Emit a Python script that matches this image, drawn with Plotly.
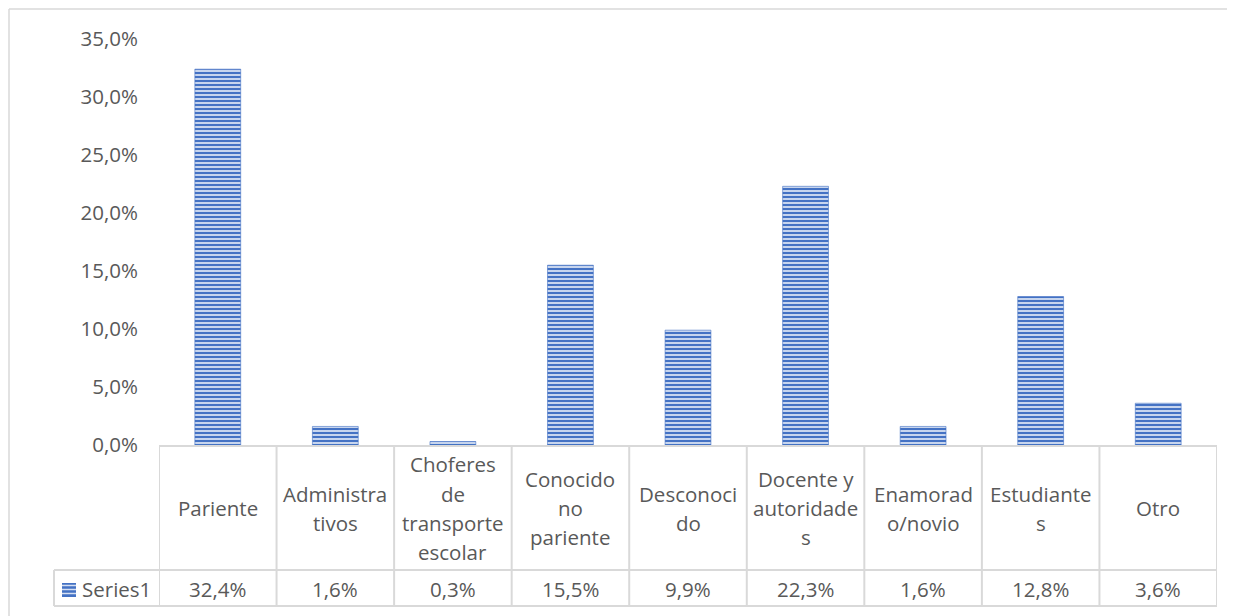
import plotly.graph_objects as go

categories = ["Pariente", "Administrativos", "Choferes de transporte escolar",
              "Conocido no pariente", "Desconocido", "Docente y autoridades",
              "Enamorado/novio", "Estudiantes", "Otro"]
label_lines = [["Pariente"], ["Administra", "tivos"], ["Choferes", "de", "transporte", "escolar"],
               ["Conocido", "no", "pariente"], ["Desconoci", "do"], ["Docente y", "autoridade", "s"],
               ["Enamorad", "o/novio"], ["Estudiante", "s"], ["Otro"]]
values = [0.324, 0.016, 0.003, 0.155, 0.099, 0.223, 0.016, 0.128, 0.036]
value_labels = ["32,4%", "1,6%", "0,3%", "15,5%", "9,9%", "22,3%", "1,6%", "12,8%", "3,6%"]
series_name = "Series1"

OFF = 8  # page body offset
W, H = 1227, 608
L, R, T, B = 159 - OFF, 18, 39 - OFF, 171
plot_h = H - T - B
plot_w = W - L - R
def py(pix):  # reference pixel y -> paper y
    return (H - B - (pix - OFF)) / plot_h
def px(pix):
    return ((pix - OFF) - L) / plot_w

TXT = "#595959"
GRID = "#d9d9d9"
FONT = "Open Sans"
FS = 20.5
BLUE = "#4472C4"
LIGHT = "#d6e0f3"

fig = go.Figure()
fig.add_trace(go.Bar(
    x=categories, y=values, width=0.39, name=series_name,
    marker=dict(color=LIGHT, line=dict(color=BLUE, width=0.6),
                pattern=dict(shape="-", fgcolor=BLUE, bgcolor=LIGHT,
                             size=4, solidity=0.55, fillmode="replace")),
    showlegend=False, hoverinfo="skip"))

shapes = []
line = dict(color=GRID, width=2)
n = len(categories)
# outer border: top and left only
shapes.append(dict(type="line", xref="paper", yref="paper", x0=px(9), x1=px(1240),
                   y0=py(9), y1=py(9), line=dict(color=GRID, width=1.5)))
shapes.append(dict(type="line", xref="paper", yref="paper", x0=px(9), x1=px(9),
                   y0=py(9), y1=py(620), line=dict(color=GRID, width=1.5)))
# header top (axis line)
shapes.append(dict(type="line", xref="paper", yref="paper", x0=0, x1=1, y0=py(446), y1=py(446), line=line))
# value row top
shapes.append(dict(type="line", xref="paper", yref="paper", x0=px(54), x1=1, y0=py(570), y1=py(570), line=line))
# bottom
shapes.append(dict(type="line", xref="paper", yref="paper", x0=px(54), x1=1, y0=py(606), y1=py(606), line=line))
# left label column vertical
shapes.append(dict(type="line", xref="paper", yref="paper", x0=px(54), x1=px(54), y0=py(570), y1=py(606), line=line))
# column boundaries
for i in range(n + 1):
    shapes.append(dict(type="line", xref="x", yref="paper", x0=i - 0.5, x1=i - 0.5,
                       y0=py(446), y1=py(606), line=line))
# legend key
shapes.append(dict(type="rect", xref="paper", yref="paper", x0=px(62), x1=px(76),
                   y0=py(597), y1=py(583), fillcolor=BLUE, line=dict(width=0)))
for k in range(3):
    yy = 585.5 + k * 4
    shapes.append(dict(type="line", xref="paper", yref="paper", x0=px(62), x1=px(76),
                       y0=py(yy), y1=py(yy), line=dict(color=LIGHT, width=1.5)))

annotations = []
spacing = 29
for cat, lines in zip(categories, label_lines):
    m = len(lines)
    for j, t in enumerate(lines):
        yc = 508 + (j - (m - 1) / 2) * spacing
        annotations.append(dict(x=cat, xref="x", y=py(yc), yref="paper", text=t,
                                showarrow=False, xanchor="center", yanchor="middle",
                                font=dict(family=FONT, size=FS, color=TXT)))
for cat, v in zip(categories, value_labels):
    annotations.append(dict(x=cat, xref="x", y=py(589), yref="paper", text=v,
                            showarrow=False, xanchor="center", yanchor="middle",
                            font=dict(family=FONT, size=FS, color=TXT)))
annotations.append(dict(x=px(80), xref="paper", y=py(589), yref="paper", text=series_name,
                        showarrow=False, xanchor="left", yanchor="middle",
                        font=dict(family=FONT, size=FS, color=TXT)))

fig.update_layout(
    width=W, height=H, margin=dict(l=L, r=R, t=T, b=B),
    paper_bgcolor="white", plot_bgcolor="white",
    separators=",.",
    font=dict(family=FONT, size=FS, color=TXT),
    xaxis=dict(type="category", range=[-0.5, n - 0.5], showticklabels=False,
               showgrid=False, zeroline=False, showline=False, ticks=""),
    yaxis=dict(range=[0, 0.35], tickvals=[0, 0.05, 0.1, 0.15, 0.2, 0.25, 0.3, 0.35],
               tickformat=".1%", showgrid=False, zeroline=False, showline=False,
               ticks="", ticklabelstandoff=20, tickfont=dict(family=FONT, size=FS, color=TXT)),
    shapes=shapes, annotations=annotations,
)
fig.write_html("out.html")
